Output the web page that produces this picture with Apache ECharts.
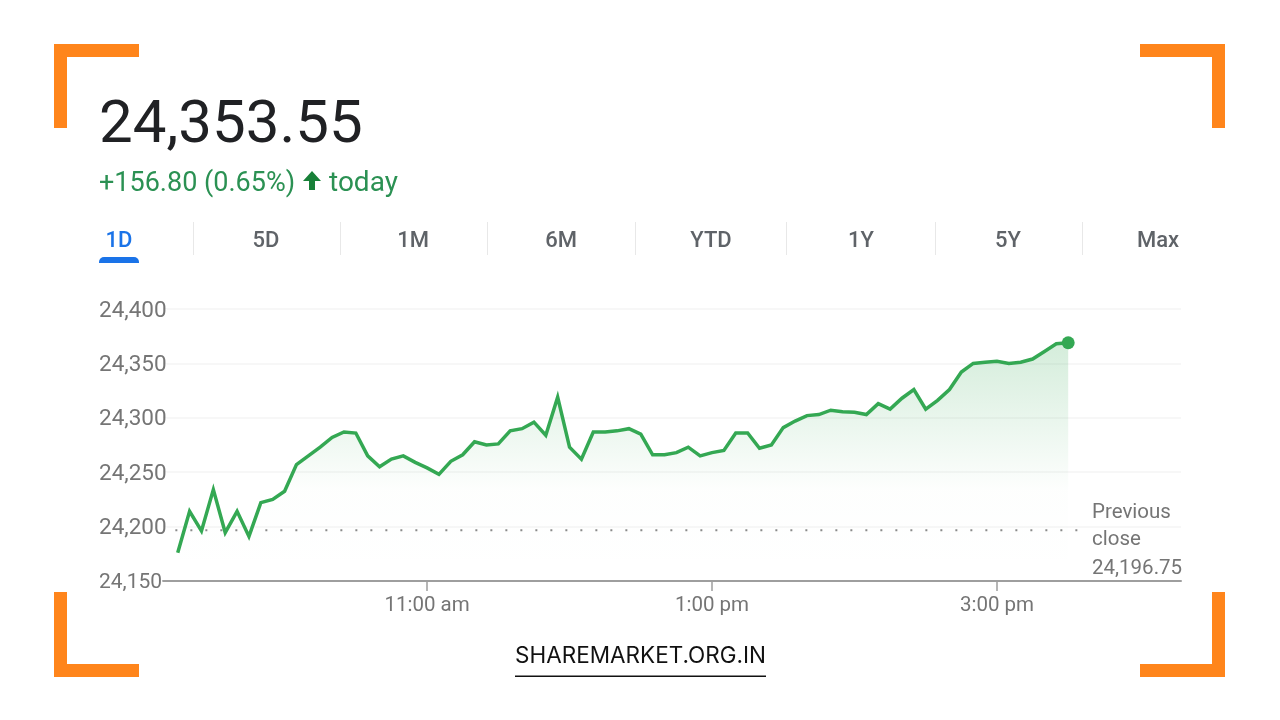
<!DOCTYPE html>
<html>
<head>
<meta charset="utf-8">
<style>
  html, body { margin: 0; padding: 0; background: #fff; }
  #chart { width: 1280px; height: 720px; }
</style>
<script src="https://cdn.jsdelivr.net/npm/echarts@6/dist/echarts.min.js"></script>
</head>
<body>
<div id="chart"></div>
<script>
// data, one value every 5 minutes
var times = [
  '09:15','09:20','09:25','09:30','09:35','09:40','09:45','09:50','09:55','10:00',
  '10:05','10:10','10:15','10:20','10:25','10:30','10:35','10:40','10:45','10:50',
  '10:55','11:00','11:05','11:10','11:15','11:20','11:25','11:30','11:35','11:40',
  '11:45','11:50','11:55','12:00','12:05','12:10','12:15','12:20','12:25','12:30',
  '12:35','12:40','12:45','12:50','12:55','13:00','13:05','13:10','13:15','13:20',
  '13:25','13:30','13:35','13:40','13:45','13:50','13:55','14:00','14:05','14:10',
  '14:15','14:20','14:25','14:30','14:35','14:40','14:45','14:50','14:55','15:00',
  '15:05','15:10','15:15','15:20','15:25','15:30'
];
var prices = [
  24176,24214,24196,24234,24194.5,24214,24191,24222,24225,24232.5,
  24257,24265,24273,24282,24287,24286,24265,24255,24262,24265,
  24259,24254,24248,24260,24266,24278,24275,24276,24288,24290,
  24296,24284,24319,24273,24262,24287,24287,24288,24290,24285,
  24266,24266,24268,24273,24265,24268,24270,24286,24286,24272,
  24275,24291,24297,24302,24303,24307,24305.5,24305,24303,24313,
  24308,24318,24326,24308,24316,24326,24342,24350,24351,24352,
  24350,24351,24354,24361,24368,24369
];
var previousClose = 24196.75;
var yTicks = [24150, 24200, 24250, 24300, 24350, 24400];
var xTickTimes = ['11:00', '13:00', '15:00'];
var xTickLabels = ['11:00 am', '1:00 pm', '3:00 pm'];
var tabLabels = ['1D', '5D', '1M', '6M', 'YTD', '1Y', '5Y', 'Max'];
var closeLines = ['Previous', 'close', '24,196.75'];
var headline = '24,353.55';
var changeText = '+156.80 (0.65%)';
var changeSuffix = 'today';
var footerText = 'SHAREMARKET.ORG.IN';

// layout
var tabCenters = [119, 266, 413, 561, 711, 861, 1008, 1158];
var tabDividers = [193, 340, 487, 635, 786, 935, 1082];
var closeLineY = [513, 540, 569];
var ORANGE = '#ff851b', GREEN = '#34a853', GREY = '#757575', TEXT_GREEN = '#2b9153';

function toMinutes(t) {
  var p = t.split(':');
  return +p[0] * 60 + +p[1];
}
var xTickValues = xTickTimes.map(toMinutes);
var lineData = times.map(function (t, i) { return [toMinutes(t), prices[i]]; });
var lastPoint = lineData[lineData.length - 1];

function label(text, x, y, font, fill, align) {
  return {
    type: 'text',
    silent: true,
    style: { text: text, x: x, y: y, font: font, fill: fill, textAlign: align || 'left', textVerticalAlign: 'middle' }
  };
}
function box(x, y, w, h, fill, r) {
  return { type: 'rect', silent: true, shape: { x: x, y: y, width: w, height: h, r: r || 0 }, style: { fill: fill } };
}

var graphics = [
  // orange corner brackets
  box(54, 44, 85, 13, ORANGE), box(54, 44, 13, 84, ORANGE),
  box(1140, 44, 85, 13, ORANGE), box(1212, 44, 13, 84, ORANGE),
  box(54, 664, 85, 13, ORANGE), box(54, 592, 13, 85, ORANGE),
  box(1140, 664, 85, 13, ORANGE), box(1212, 592, 13, 85, ORANGE),
  // header
  label(headline, 99, 127, '400 60px Roboto', '#202124'),
  label(changeText, 99, 184, '400 27px Roboto', TEXT_GREEN),
  {
    type: 'polygon', silent: true,
    shape: { points: [[312, 171], [321, 181], [315, 181], [315, 190], [309, 190], [309, 181], [303, 181]] },
    style: { fill: '#188038' }
  },
  label(changeSuffix, 329, 184, '400 28px Roboto', TEXT_GREEN),
  // tab underline
  box(99, 257, 40, 6, '#1a73e8', [5, 5, 0, 0]),
  // footer
  label(footerText, 640.5, 656, '400 22.5px Inter', '#111', 'center'),
  box(515, 675.5, 251, 1.5, '#111')
];
tabLabels.forEach(function (t, i) {
  graphics.push(label(t, tabCenters[i], 241, '500 22px Roboto', i === 0 ? '#1a73e8' : '#5f6368', 'center'));
});
tabDividers.forEach(function (x) { graphics.push(box(x, 222, 1, 33, '#e8e8e8')); });
closeLines.forEach(function (t, i) { graphics.push(label(t, 1092, closeLineY[i], '400 20.5px Roboto', GREY)); });

var myChart = echarts.init(document.getElementById('chart'));
myChart.setOption({
  animation: false,
  backgroundColor: '#fff',
  grid: { left: 163, right: 99, top: 309, bottom: 139 },
  xAxis: {
    type: 'value',
    min: 548.8,
    max: 977.5,
    splitLine: { show: false },
    axisLine: { show: true, lineStyle: { color: '#9e9e9e', width: 2 } },
    axisTick: { show: true, length: 10, lineStyle: { color: '#9e9e9e', width: 1.5 }, customValues: xTickValues },
    axisLabel: {
      color: GREY,
      fontFamily: 'Roboto',
      fontSize: 20.5,
      margin: 14,
      customValues: xTickValues,
      formatter: function (v) { return xTickLabels[xTickValues.indexOf(v)]; }
    }
  },
  yAxis: {
    type: 'value',
    min: yTicks[0],
    max: yTicks[yTicks.length - 1],
    interval: 50,
    axisLine: { show: false },
    axisTick: { show: false },
    splitLine: { lineStyle: { color: '#f4f4f4', width: 1.5 } },
    axisLabel: {
      color: GREY,
      fontFamily: 'Roboto',
      fontSize: 22.5,
      align: 'left',
      verticalAlign: 'top',
      lineHeight: 4,
      margin: 64,
      backgroundColor: '#fff',
      rich: {
        low: { color: GREY, fontFamily: 'Roboto', fontSize: 21, lineHeight: 4 }
      },
      formatter: function (v) {
        var s = v.toLocaleString('en-US');
        // bottom label sits tight against the axis line
        return v === yTicks[0] ? '{low|' + s + '}' : s;
      }
    }
  },
  series: [
    {
      // previous close dots
      type: 'line',
      silent: true,
      symbol: 'none',
      z: 1,
      data: [[554, previousClose], [938, previousClose]],
      lineStyle: { color: '#8a8a8a', width: 2, type: [2, 13] }
    },
    {
      type: 'line',
      silent: true,
      symbol: 'none',
      z: 2,
      data: lineData,
      lineStyle: { color: GREEN, width: 3.5, join: 'miter' },
      areaStyle: {
        origin: 'start',
        color: new echarts.graphic.LinearGradient(0, 0, 0, 1, [
          { offset: 0, color: 'rgba(52,168,83,0.30)' },
          { offset: 0.62, color: 'rgba(52,168,83,0.01)' },
          { offset: 1, color: 'rgba(52,168,83,0)' }
        ])
      }
    },
    {
      type: 'scatter',
      silent: true,
      z: 3,
      symbolSize: 13,
      itemStyle: { color: GREEN, opacity: 1 },
      data: [lastPoint]
    }
  ],
  graphic: graphics
});
</script>
</body>
</html>
